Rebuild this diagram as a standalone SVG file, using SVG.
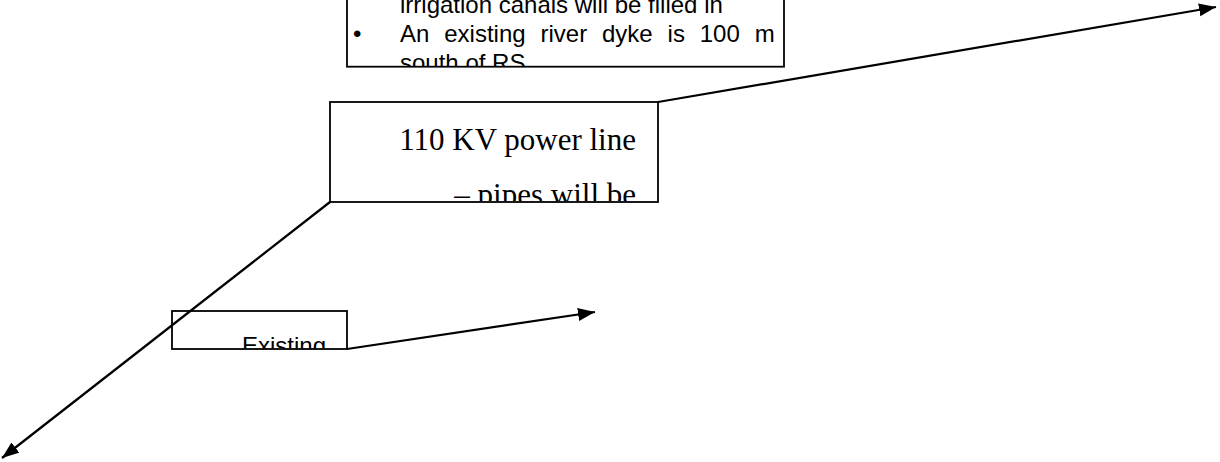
<svg xmlns="http://www.w3.org/2000/svg" width="1220" height="462" viewBox="0 0 1220 462">
  <style>
    .box { fill: #ffffff; stroke: #000000; stroke-width: 1.8; }
    .sans { font-family: "Liberation Sans", Arial, sans-serif; font-size: 24px; fill: #000000; }
    .serif { font-family: "Liberation Serif", "Times New Roman", serif; font-size: 31px; fill: #000000; }
    .conn { stroke: #000000; stroke-width: 2.25; fill: none; marker-end: url(#arrow); }
  </style>
  <defs>
    <marker id="arrow" markerUnits="userSpaceOnUse" markerWidth="18" markerHeight="14" refX="17" refY="7" orient="auto">
      <path d="M0,0.5 L17,7 L0,13.5 Z" fill="#000000"/>
    </marker>
    <clipPath id="clip-notes"><rect x="348" y="-60" width="435" height="126"/></clipPath>
    <clipPath id="clip-power"><rect x="331" y="103" width="326" height="98"/></clipPath>
    <clipPath id="clip-existing"><rect x="173" y="312" width="173" height="36.5"/></clipPath>
  </defs>

  <!-- Notes text box (runs off the top edge) -->
  <g id="node-notes">
    <rect class="box" x="347" y="-60" width="437" height="126.7"/>
    <g clip-path="url(#clip-notes)">
      <text class="sans" x="400" y="13.3">irrigation canals will be filled in</text>
      <text class="sans" x="353" y="41.7">•</text>
      <text class="sans" x="400" y="41.7" word-spacing="8.2">An existing river dyke is 100 m</text>
      <text class="sans" x="400" y="71">south of RS</text>
    </g>
  </g>

  <!-- Power line label box -->
  <g id="node-power">
    <rect class="box" x="330" y="102" width="328" height="100"/>
    <g clip-path="url(#clip-power)">
      <text class="serif" x="636" y="150" text-anchor="end">110 KV power line</text>
      <text class="serif" x="636" y="205" text-anchor="end">– pipes will be</text>
    </g>
  </g>

  <!-- Existing feature label box -->
  <g id="node-existing">
    <rect class="box" x="172" y="311" width="175" height="38"/>
    <g clip-path="url(#clip-existing)">
      <text class="sans" x="242" y="354">Existing</text>
    </g>
  </g>

  <!-- Leader arrows -->
  <g id="connectors">
    <line class="conn" x1="330" y1="202" x2="2" y2="458"/>
    <line class="conn" x1="658" y1="102" x2="1216" y2="7"/>
    <line class="conn" x1="347" y1="349" x2="595" y2="312"/>
  </g>
</svg>
